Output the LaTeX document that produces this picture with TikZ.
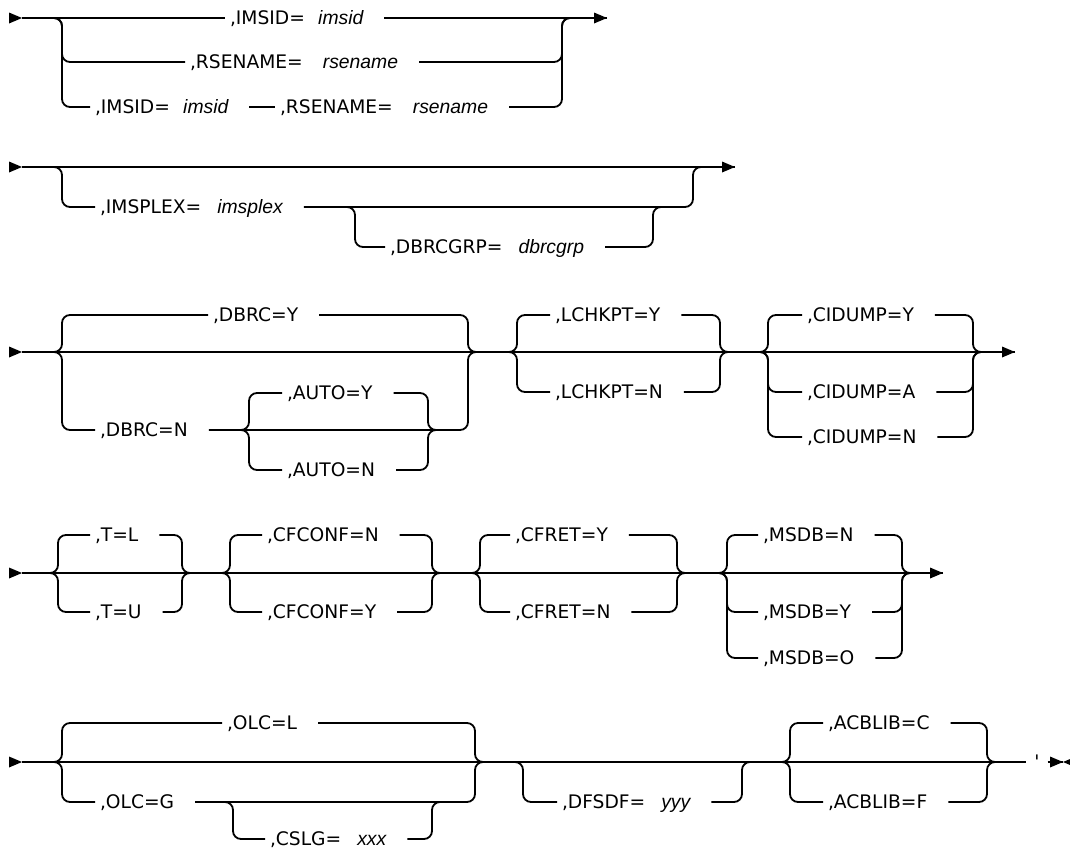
\documentclass[tikz,border=0pt]{standalone}
\usepackage{fontspec}
\setmainfont{DejaVu Sans}
\newfontfamily\varfont{Liberation Sans}
\newcommand\vv[2][10pt]{\hspace{#1}{\varfont\itshape\fontsize{14.5}{16}\selectfont #2}}
\begin{document}
\begin{tikzpicture}[x=0.75pt,y=-0.75pt,
  rail/.style={line width=1.35pt, rounded corners=6pt},
  opt/.style={anchor=west, inner xsep=3.75pt, inner ysep=0pt, outer sep=0pt,
    text height=10.2pt, text depth=0pt, font=\fontsize{14}{16}\selectfont,
    execute at end node={\hspace{12pt}}},
  tick/.style={inner xsep=6pt, inner ysep=0pt, outer sep=0pt,
    text height=10.2pt, text depth=0pt, font=\fontsize{14}{16}\selectfont},
  tipR/.pic={\fill (-13,-5.5) -- (0,0) -- (-13,5.5) -- cycle;},
  tipL/.pic={\fill (13,-5.5) -- (0,0) -- (13,5.5) -- cycle;},
]
\useasboundingbox (0,0) rectangle (1070,850);

% ---------------- Row 1
\coordinate (s1) at (22,18);
\coordinate (e1) at (607,18);
\coordinate (j1L) at (44,18);
\coordinate (v1) at (62,18);
\coordinate (w1) at (562,18);
\coordinate (j1R) at (580,18);
\node[opt] (t11) at (225,18) {,IMSID=\vv{imsid}};
\node[opt] (t12) at (185,62) {,RSENAME=\vv[15pt]{rsename}};
\node[opt] (t13a) at (90,107) {,IMSID=\vv{imsid}};
\node[opt] (t13b) at (275,107) {,RSENAME=\vv[15pt]{rsename}};
\pic at (s1) {tipR};
\draw[rail] (s1) -- (t11.west);
\draw[rail] (t11.east) -- (e1);
\pic at (e1) {tipR};
\draw[rail] (j1L) -| (v1 |- t12.west) -- (t12.west);
\draw[rail] (j1L) -| (v1 |- t13a.west) -- (t13a.west);
\draw[rail] (t13a.east) -- (t13b.west);
\draw[rail] (t12.east) -- (w1 |- t12.east) |- (j1R);
\draw[rail] (t13b.east) -- (w1 |- t13b.east) |- (j1R);

% ---------------- Row 2
\coordinate (s2) at (22,167);
\coordinate (e2) at (735,167);
\coordinate (j2L) at (44,167);
\coordinate (v2) at (62,167);
\coordinate (w2) at (693,167);
\coordinate (j2R) at (710,167);
\coordinate (j22L) at (338,207);
\coordinate (v22) at (355,207);
\coordinate (w22) at (653,207);
\coordinate (j22R) at (670,207);
\node[opt] (t21) at (95,207) {,IMSPLEX=\vv[12pt]{imsplex}};
\node[opt] (t22) at (385,247) {,DBRCGRP=\vv[12pt]{dbrcgrp}};
\pic at (s2) {tipR};
\draw[rail] (s2) -- (e2);
\pic at (e2) {tipR};
\draw[rail] (j2L) -| (v2 |- t21.west) -- (t21.west);
\draw[rail] (t21.east) -- (w2 |- t21.east) |- (j2R);
\draw[rail] (j22L) -| (v22 |- t22.west) -- (t22.west);
\draw[rail] (t22.east) -- (w22 |- t22.east) |- (j22R);

% ---------------- Row 3
\coordinate (s3) at (22,352);
\coordinate (e3) at (1015,352);
\coordinate (j3L) at (44,352);
\coordinate (v3) at (62,352);
\coordinate (w3) at (468,352);
\coordinate (j3R) at (485,352);
\coordinate (ja3L) at (232,430);
\coordinate (va3) at (249,430);
\coordinate (wa3) at (428,430);
\coordinate (ja3R) at (445,430);
\coordinate (jb3L) at (500,352);
\coordinate (vb3) at (517,352);
\coordinate (wb3) at (720,352);
\coordinate (jb3R) at (737,352);
\coordinate (jc3L) at (751,352);
\coordinate (vc3) at (768,352);
\coordinate (wc3) at (973,352);
\coordinate (jc3R) at (990,352);
\node[opt] (t31) at (208,315) {,DBRC=Y};
\node[opt] (t32) at (95,430) {,DBRC=N};
\node[opt] (t33) at (282,393) {,AUTO=Y};
\node[opt] (t34) at (282,470) {,AUTO=N};
\node[opt] (t35) at (550,315) {,LCHKPT=Y};
\node[opt] (t36) at (550,392) {,LCHKPT=N};
\node[opt] (t37) at (802,315) {,CIDUMP=Y};
\node[opt] (t38) at (802,392) {,CIDUMP=A};
\node[opt] (t39) at (802,437) {,CIDUMP=N};
\pic at (s3) {tipR};
\draw[rail] (s3) -- (e3);
\pic at (e3) {tipR};
\foreach \t in {t31,t32}{
  \draw[rail] (j3L) -| (v3 |- \t.west) -- (\t.west);
  \draw[rail] (\t.east) -- (w3 |- \t.east) |- (j3R);}
\foreach \t in {t33,t34}{
  \draw[rail] (ja3L) -| (va3 |- \t.west) -- (\t.west);
  \draw[rail] (\t.east) -- (wa3 |- \t.east) |- (ja3R);}
\foreach \t in {t35,t36}{
  \draw[rail] (jb3L) -| (vb3 |- \t.west) -- (\t.west);
  \draw[rail] (\t.east) -- (wb3 |- \t.east) |- (jb3R);}
\foreach \t in {t37,t38,t39}{
  \draw[rail] (jc3L) -| (vc3 |- \t.west) -- (\t.west);
  \draw[rail] (\t.east) -- (wc3 |- \t.east) |- (jc3R);}

% ---------------- Row 4
\coordinate (s4) at (22,573);
\coordinate (e4) at (943,573);
\coordinate (j4aL) at (40,573);
\coordinate (v4a) at (58,573);
\coordinate (w4a) at (182,573);
\coordinate (j4aR) at (199,573);
\coordinate (j4bL) at (213,573);
\coordinate (v4b) at (230,573);
\coordinate (w4b) at (432,573);
\coordinate (j4bR) at (449,573);
\coordinate (j4cL) at (463,573);
\coordinate (v4c) at (480,573);
\coordinate (w4c) at (677,573);
\coordinate (j4cR) at (694,573);
\coordinate (j4dL) at (710,573);
\coordinate (v4d) at (727,573);
\coordinate (w4d) at (902,573);
\coordinate (j4dR) at (919,573);
\node[opt] (t41) at (90,535) {,T=L};
\node[opt] (t42) at (90,612) {,T=U};
\node[opt] (t43) at (262,535) {,CFCONF=N};
\node[opt] (t44) at (262,612) {,CFCONF=Y};
\node[opt] (t45) at (510,535) {,CFRET=Y};
\node[opt] (t46) at (510,612) {,CFRET=N};
\node[opt] (t47) at (758,535) {,MSDB=N};
\node[opt] (t48) at (758,612) {,MSDB=Y};
\node[opt] (t49) at (758,658) {,MSDB=O};
\pic at (s4) {tipR};
\draw[rail] (s4) -- (e4);
\pic at (e4) {tipR};
\foreach \t in {t41,t42}{
  \draw[rail] (j4aL) -| (v4a |- \t.west) -- (\t.west);
  \draw[rail] (\t.east) -- (w4a |- \t.east) |- (j4aR);}
\foreach \t in {t43,t44}{
  \draw[rail] (j4bL) -| (v4b |- \t.west) -- (\t.west);
  \draw[rail] (\t.east) -- (w4b |- \t.east) |- (j4bR);}
\foreach \t in {t45,t46}{
  \draw[rail] (j4cL) -| (v4c |- \t.west) -- (\t.west);
  \draw[rail] (\t.east) -- (w4c |- \t.east) |- (j4cR);}
\foreach \t in {t47,t48,t49}{
  \draw[rail] (j4dL) -| (v4d |- \t.west) -- (\t.west);
  \draw[rail] (\t.east) -- (w4d |- \t.east) |- (j4dR);}

% ---------------- Row 5
\coordinate (s5) at (22,762);
\coordinate (e5) at (1063,762);
\coordinate (j5aL) at (44,762);
\coordinate (v5a) at (62,762);
\coordinate (w5a) at (475,762);
\coordinate (j5aR) at (492,762);
\coordinate (j5bL) at (215,802);
\coordinate (v5b) at (233,802);
\coordinate (w5b) at (432,802);
\coordinate (j5bR) at (450,802);
\coordinate (j5cL) at (505,762);
\coordinate (v5c) at (523,762);
\coordinate (w5c) at (742,762);
\coordinate (j5cR) at (760,762);
\coordinate (j5dL) at (773,762);
\coordinate (v5d) at (790,762);
\coordinate (w5d) at (987,762);
\coordinate (j5dR) at (1004,762);
\node[opt] (t51) at (222,723) {,OLC=L};
\node[opt] (t52) at (95,802) {,OLC=G};
\node[opt] (t53) at (265,839) {,CSLG=\vv[12pt]{xxx}};
\node[opt] (t54) at (557,802) {,DFSDF=\vv[12pt]{yyy}};
\node[opt] (t55) at (823,723) {,ACBLIB=C};
\node[opt] (t56) at (823,802) {,ACBLIB=F};
\node[tick] (q) at (1037,762) {\textquotesingle};
\pic at (s5) {tipR};
\draw[rail] (s5) -- (q.west);
\draw[rail] (q.east) -- (e5);
\pic at (e5) {tipR};
\pic at (e5) {tipL};
\foreach \t in {t51,t52}{
  \draw[rail] (j5aL) -| (v5a |- \t.west) -- (\t.west);
  \draw[rail] (\t.east) -- (w5a |- \t.east) |- (j5aR);}
\draw[rail] (j5bL) -| (v5b |- t53.west) -- (t53.west);
\draw[rail] (t53.east) -- (w5b |- t53.east) |- (j5bR);
\draw[rail] (j5cL) -| (v5c |- t54.west) -- (t54.west);
\draw[rail] (t54.east) -- (w5c |- t54.east) |- (j5cR);
\foreach \t in {t55,t56}{
  \draw[rail] (j5dL) -| (v5d |- \t.west) -- (\t.west);
  \draw[rail] (\t.east) -- (w5d |- \t.east) |- (j5dR);}
\end{tikzpicture}
\end{document}
